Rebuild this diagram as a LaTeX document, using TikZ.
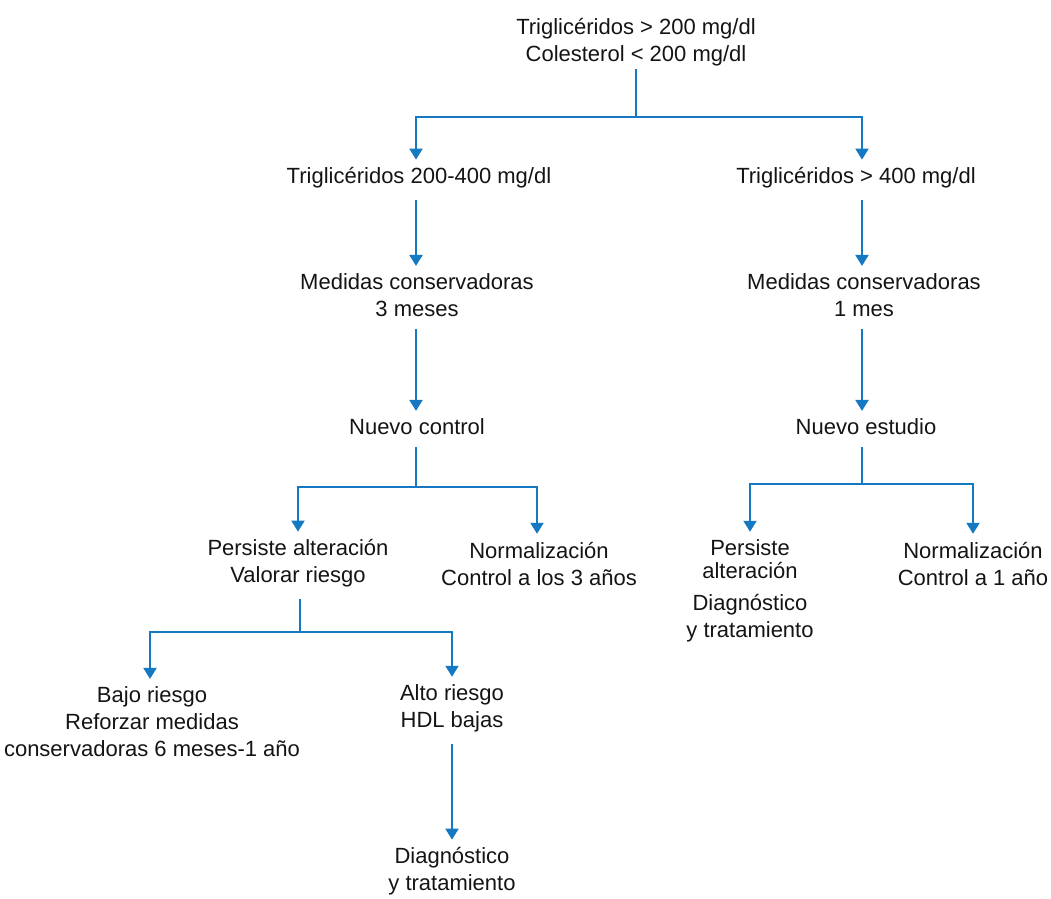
\documentclass[tikz,border=0pt]{standalone}
\usepackage{fontspec}
\setmainfont{Liberation Sans}
\usetikzlibrary{arrows.meta}
\definecolor{lineblue}{RGB}{20,120,195}
\definecolor{txt}{RGB}{20,20,20}
\tikzset{
  lbl/.style={align=center,inner sep=0pt,outer sep=0pt,text=txt,font=\fontsize{22}{27}\selectfont},
  conn/.style={draw=lineblue,line width=2pt},
  arr/.style={conn,-{Triangle[width=13pt,length=11pt]},shorten >=8pt}
}
\begin{document}
\begin{tikzpicture}[x=1pt,y=-1pt]
\useasboundingbox (0,0) rectangle (1051,898);
\node[lbl] (top) at (636,42.5) {Triglicéridos > 200 mg/dl\\Colesterol < 200 mg/dl};
\node[lbl] (t1) at (419,178) {Triglicéridos 200-400 mg/dl};
\node[lbl] (t2) at (856,178) {Triglicéridos > 400 mg/dl};
\node[lbl] (m1) at (417,295.5) {Medidas conservadoras\\3 meses};
\node[lbl] (m2) at (864,295.5) {Medidas conservadoras\\1 mes};
\node[lbl] (n1) at (417,427) {Nuevo control};
\node[lbl] (n2) at (866,427) {Nuevo estudio};
\node[lbl] (p1) at (298,563.5) {Persiste alteración\\Valorar riesgo};
\node[lbl] (q1) at (539,563.5) {Normalización\\Control a los 3 años};
\node[lbl] (p2) at (750,591) {Persiste\\[-4pt]alteración\\[5pt]Diagnóstico\\y tratamiento};
\node[lbl] (q2) at (973,563.5) {Normalización\\Control a 1 año};
\node[lbl] (b1) at (152,722) {Bajo riesgo\\Reforzar medidas\\conservadoras 6 meses-1 año};
\node[lbl] (a1) at (452,708.5) {Alto riesgo\\HDL bajas};
\node[lbl] (d1) at (452,871.5) {Diagnóstico\\y tratamiento};

\coordinate (j1) at (636,117);
\coordinate (j2) at (416,487);
\coordinate (j3) at (300,632);
\coordinate (j4) at (862,484);

\draw[conn,shorten <=3pt] (top.south) -- (j1);
\draw[arr] (j1) -| ([xshift=-3pt]t1.north);
\draw[arr] (j1) -| ([xshift=6pt]t2.north);
\draw[arr,shorten <=12pt] ([xshift=-3pt]t1.south) -- ([xshift=-1pt]m1.north);
\draw[arr,shorten <=12pt] ([xshift=6pt]t2.south) -- ([xshift=-2pt]m2.north);
\draw[arr,shorten <=12pt] ([xshift=-1pt]m1.south) -- ([xshift=-1pt]n1.north);
\draw[arr,shorten <=12pt] ([xshift=-2pt]m2.south) -- ([xshift=-4pt]n2.north);
\draw[conn,shorten <=12pt] ([xshift=-1pt]n1.south) -- (j2);
\draw[arr] (j2) -| (p1.north);
\draw[arr] (j2) -| ([xshift=-2pt]q1.north);
\draw[conn,shorten <=12pt] ([xshift=-4pt]n2.south) -- (j4);
\draw[arr] (j4) -| (p2.north);
\draw[arr] (j4) -| (q2.north);
\draw[conn,shorten <=12pt] (p1.south -| j3) -- (j3);
\draw[arr] (j3) -| ([xshift=-2pt]b1.north);
\draw[arr] (j3) -| (a1.north);
\draw[arr,shorten <=12pt] (a1.south) -- (d1.north);
\end{tikzpicture}
\end{document}
